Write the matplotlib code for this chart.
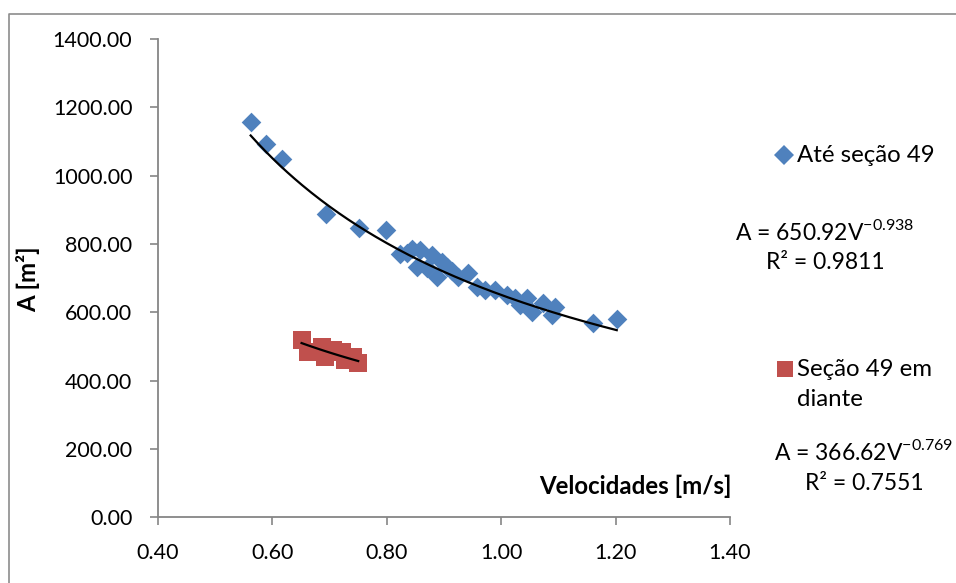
import numpy as np
import matplotlib
matplotlib.use('Agg')
from matplotlib import pyplot as plt
from matplotlib.lines import Line2D

plt.rcParams['font.family'] = ['Lato', 'DejaVu Sans']

# velocity [m/s] and area [m2]
blue_v = [0.562, 0.589, 0.616, 0.693, 0.752, 0.798, 0.823, 0.835, 0.844, 0.852,
          0.858, 0.870, 0.879, 0.887, 0.897, 0.905, 0.914, 0.924, 0.942, 0.957,
          0.972, 0.989, 1.010, 1.024, 1.033, 1.045, 1.053, 1.073, 1.088, 1.094,
          1.161, 1.202]
blue_a = [1158, 1093, 1049, 888, 848, 841, 771, 773, 786, 733,
          782, 729, 768, 704, 747, 733, 720, 703, 715, 675,
          665, 665, 650, 642, 621, 641, 602, 627, 592, 616,
          570, 580]
red_v = [0.651, 0.663, 0.686, 0.692, 0.706, 0.721, 0.727, 0.741, 0.750]
red_a = [519, 485, 499, 470, 490, 485, 460, 470, 451]

# power trendlines A = c * V^k
blue_fit = (650.92, -0.938, 0.9811)
red_fit = (366.62, -0.769, 0.7551)

x_ticks = [0.4, 0.6, 0.8, 1.0, 1.2, 1.4]
y_ticks = [0, 200, 400, 600, 800, 1000, 1200, 1400]

blue = '#4F81BD'
red = '#C0504D'
grey = '#868686'
fs = 15.5     # tick labels
fs2 = 17.3    # legend, titles
fs3 = 16.5    # equations

fig = plt.figure(figsize=(9.56, 5.83), dpi=100)
ax = fig.add_axes([158/956, 1 - 517.3/583, 572/956, 478.3/583])

ax.scatter(blue_v, blue_a, marker='D', s=100, color=blue, linewidths=0, zorder=2)
ax.scatter(red_v, red_a, marker='s', s=160, color=red, linewidths=0, zorder=2)

xb = np.linspace(min(blue_v), max(blue_v), 200)
ax.plot(xb, blue_fit[0] * xb ** blue_fit[1], color='black', lw=1.6, zorder=3)
xr = np.linspace(min(red_v), max(red_v), 50)
ax.plot(xr, red_fit[0] * xr ** red_fit[1], color='black', lw=1.6, zorder=3)

ax.set_xlim(x_ticks[0], x_ticks[-1])
ax.set_ylim(y_ticks[0], y_ticks[-1])
ax.set_xticks(x_ticks)
ax.set_yticks(y_ticks)
ax.set_xticklabels(['%.2f' % v for v in x_ticks])
ax.set_yticklabels(['%.2f' % v for v in y_ticks])
ax.tick_params(direction='out', length=5.5, width=1.2, color=grey,
               labelsize=fs, labelcolor='black')
ax.tick_params(axis='y', pad=13)
ax.tick_params(axis='x', pad=13)
for s in ['top', 'right']:
    ax.spines[s].set_visible(False)
for s in ['left', 'bottom']:
    ax.spines[s].set_color(grey)
    ax.spines[s].set_linewidth(1.3)

# axis titles
fig.text(732/956, 1 - 486/583, 'Velocidades [m/s]', ha='right', va='center',
         fontsize=fs2, fontweight='bold')
fig.text(28/956, 1 - 279/583, 'A [m²]', ha='center', va='center',
         rotation=90, fontsize=fs2, fontweight='bold')

# legend entries
fig.add_artist(Line2D([784/956], [1 - 155/583], marker='D', ms=10.5,
                      color=blue, lw=0, mew=0))
fig.text(797/956, 1 - 155/583, 'Até seção 49', ha='left', va='center', fontsize=fs2)
fig.add_artist(Line2D([785/956], [1 - 369/583], marker='s', ms=11.5,
                      color=red, lw=0, mew=0))
fig.text(797/956, 1 - 369/583, 'Seção 49 em', ha='left', va='center', fontsize=fs2)
fig.text(797/956, 1 - 399/583, 'diante', ha='left', va='center', fontsize=fs2)

# trendline equations
def eq_text(fit):
    return 'A = %.2fV$^{\\mathregular{%.3f}}$' % (fit[0], fit[1])

fig.text(825/956, 1 - 231/583, eq_text(blue_fit), ha='center', va='center', fontsize=fs3)
fig.text(825/956, 1 - 262/583, 'R² = %.4f' % blue_fit[2], ha='center', va='center', fontsize=fs3)
fig.text(864/956, 1 - 452/583, eq_text(red_fit), ha='center', va='center', fontsize=fs3)
fig.text(864/956, 1 - 483/583, 'R² = %.4f' % red_fit[2], ha='center', va='center', fontsize=fs3)

# chart frame (cropped at right and bottom)
fig.add_artist(Line2D([9/956, 9/956, 1.0], [0.0, 1 - 14/583, 1 - 14/583],
                      color='#8C8C8C', lw=1.2))

fig.savefig('out.png', dpi=100)
